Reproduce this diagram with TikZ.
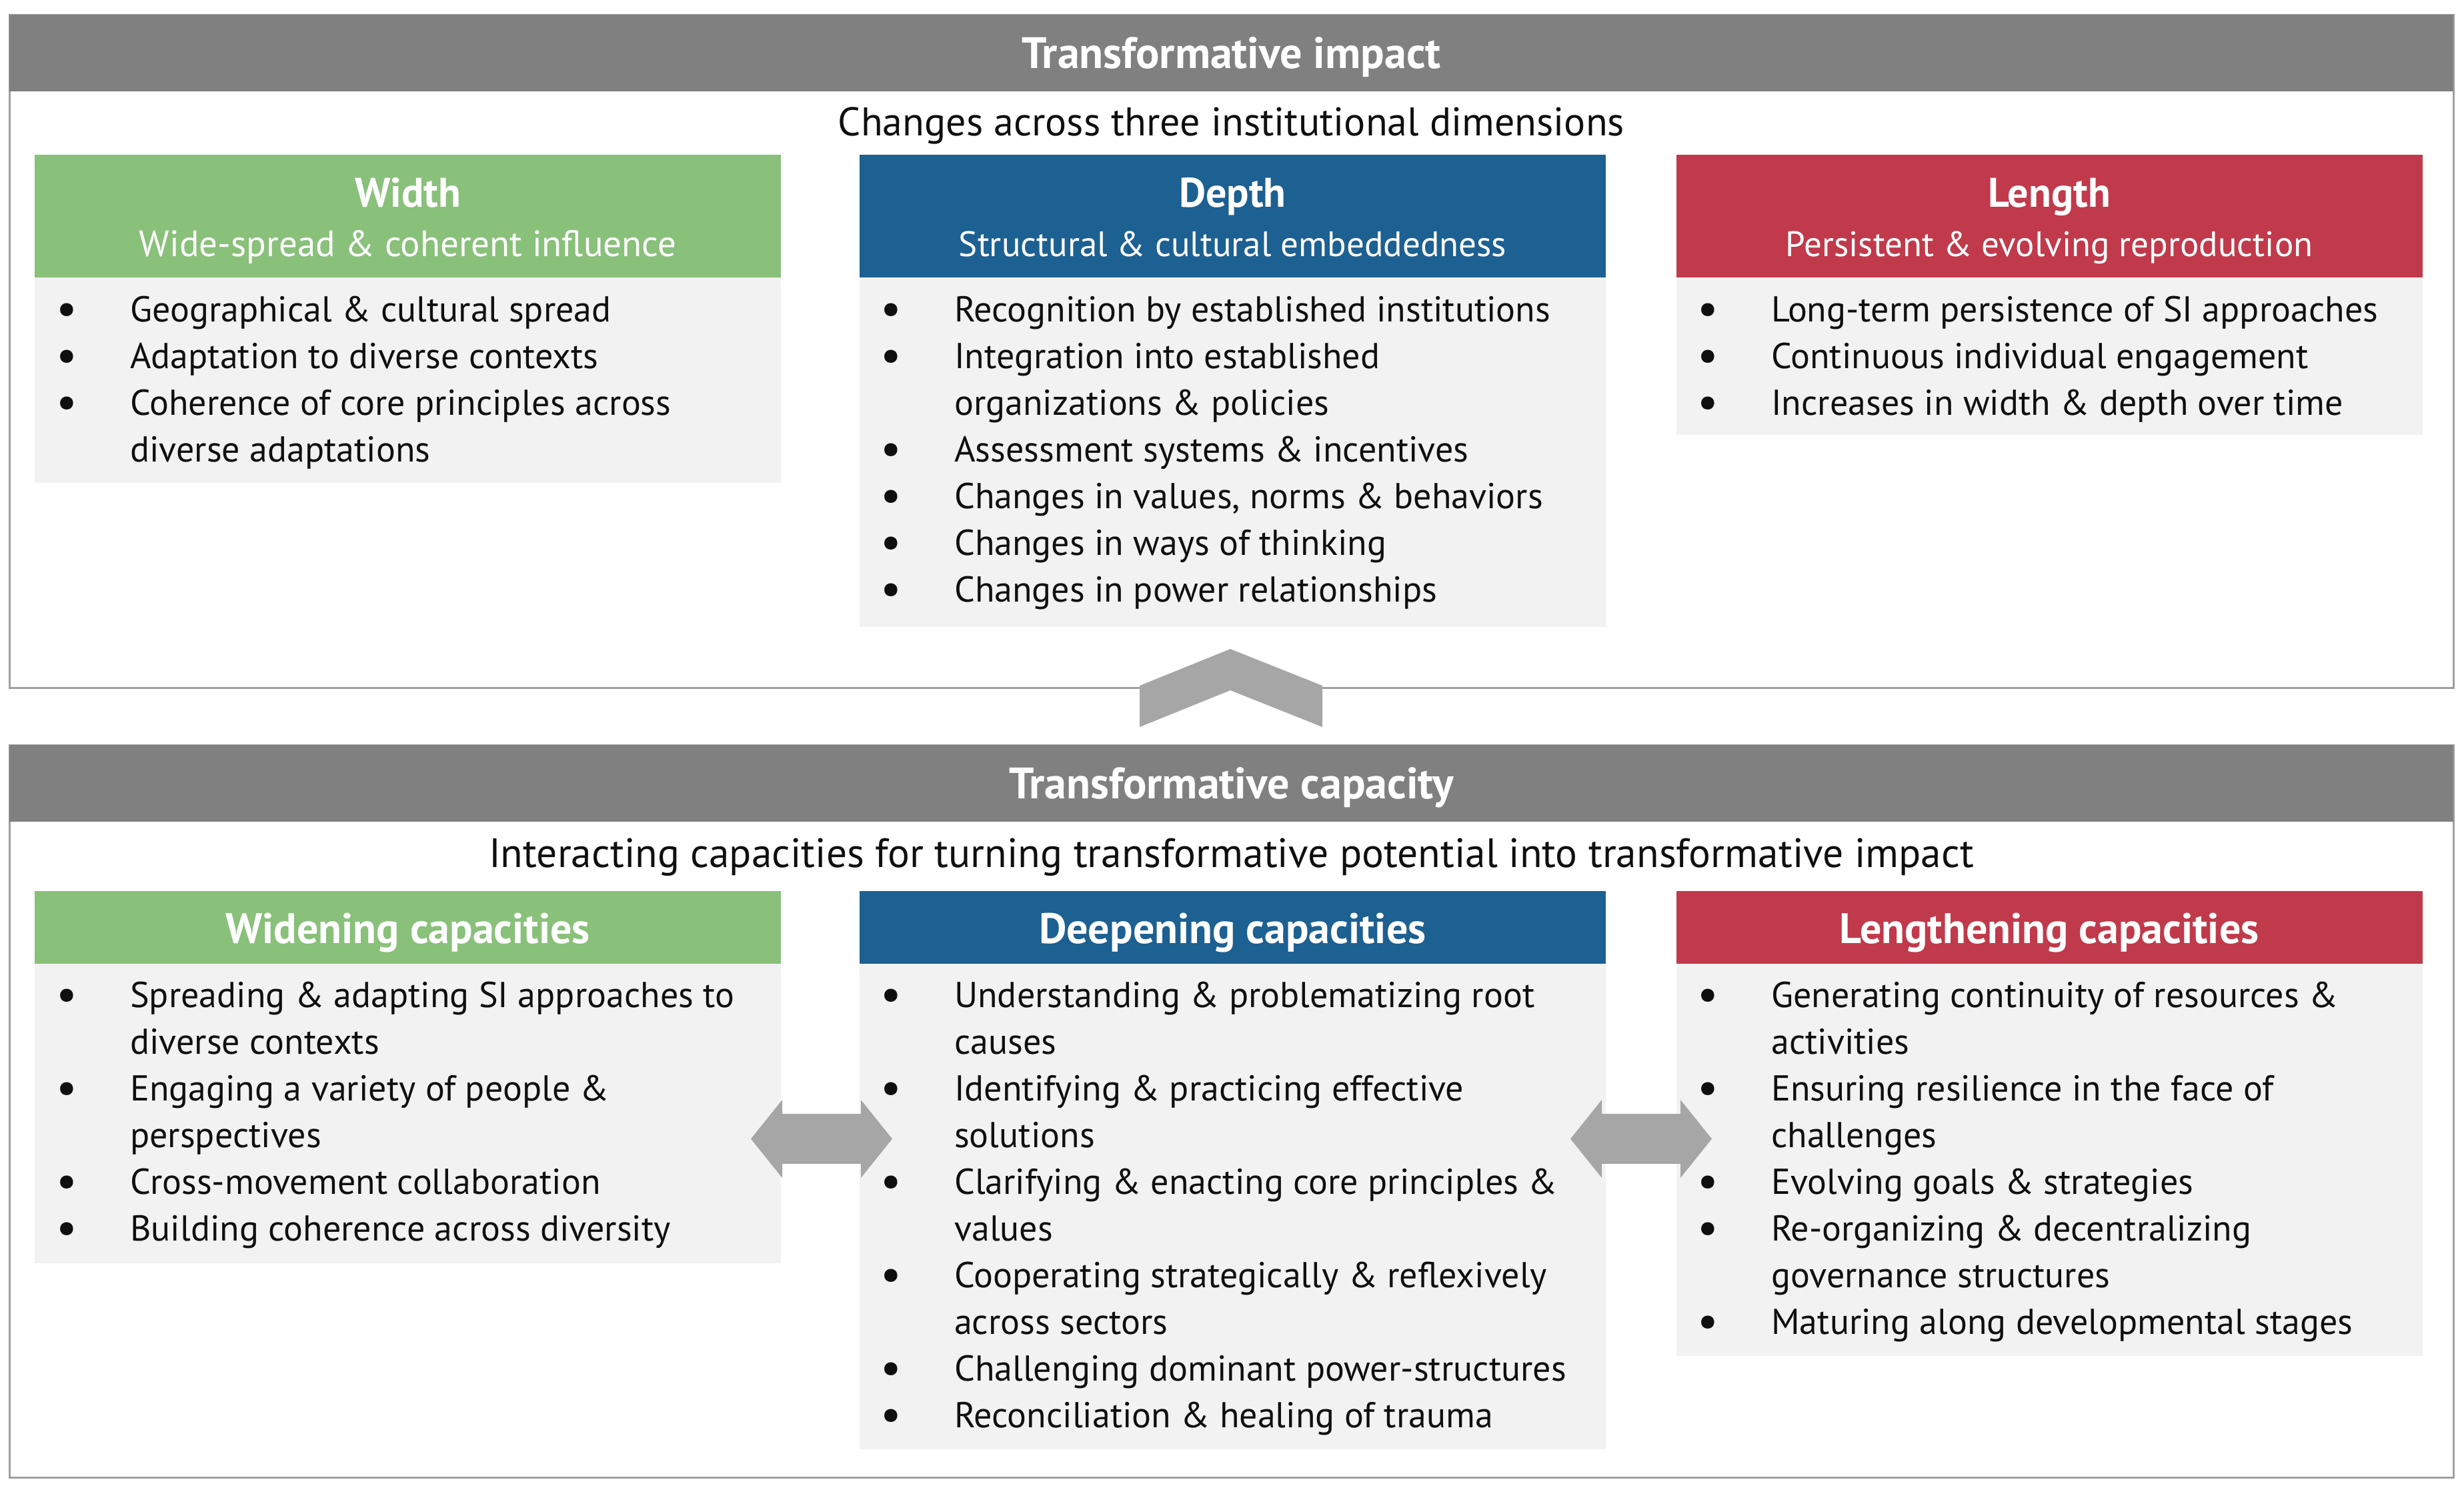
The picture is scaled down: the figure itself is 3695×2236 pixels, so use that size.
\documentclass[tikz,border=0pt]{standalone}
\usepackage{fontspec}
\setmainfont{PT Sans}
\usepackage{tikz}
\usetikzlibrary{arrows.meta}

\definecolor{bandgray}{RGB}{128,128,128}
\definecolor{framegray}{RGB}{160,160,160}
\definecolor{wgreen}{RGB}{137,192,122}
\definecolor{dblue}{RGB}{29,96,146}
\definecolor{lred}{RGB}{192,58,75}
\definecolor{bodygray}{RGB}{242,242,242}
\definecolor{arrowgray}{RGB}{166,166,166}
\definecolor{txt}{RGB}{15,15,15}

\newcommand{\bul}{\raisebox{-4pt}{\fontsize{70}{70}\selectfont\textbullet}}

\begin{document}
\begin{tikzpicture}[x=1pt, y=-1pt, every node/.style={inner sep=0pt, text=txt}]
\tikzset{
  frame/.style={draw=framegray, line width=3pt, minimum width=3665pt},
  band/.style={fill=bandgray, minimum width=3665pt, minimum height=115pt},
  bandtext/.style={anchor=base, text=white, font=\fontsize{66}{72}\selectfont\bfseries},
  subtitle/.style={anchor=base, font=\fontsize{60}{72}\selectfont},
  colhead/.style={minimum width=1119pt},
  coltitle/.style={anchor=base, text=white, font=\fontsize{62}{72}\selectfont\bfseries},
  colsub/.style={anchor=base, text=white, font=\fontsize{53}{72}\selectfont},
  colbody/.style={fill=bodygray, minimum width=1119pt, anchor=north},
  blist/.style={anchor=north west, font=\fontsize{54}{70}\selectfont},
  twoway/.style={arrowgray, line width=75pt, {Triangle[length=47pt,width=117pt,line width=0pt]}-{Triangle[length=47pt,width=117pt,line width=0pt]}}
}
\useasboundingbox (0,0) rectangle (3695,2236);

% transformative impact
\node[frame, minimum height=1009pt] (impact) at (1846.5,526.5) {};
\node[band] (imphead) at (1846.5,79.5) {};
\node[bandtext] (imptitle) at (1846.5,102) {Transformative impact};
\node[subtitle] (impsub) at (1846.5,203) {Changes across three institutional dimensions};

\node[colhead, fill=wgreen, minimum height=184pt] (whead) at (611.5,324) {};
\node[colhead, fill=dblue, minimum height=184pt] (dhead) at (1848.5,324) {};
\node[colhead, fill=lred, minimum height=184pt] (lhead) at (3073,324) {};
\node[coltitle] (wtitle) at (611.5,310) {Width};
\node[coltitle] (dtitle) at (1848.5,310) {Depth};
\node[coltitle] (ltitle) at (3073,310) {Length};
\node[colsub, font=\fontsize{55}{72}\selectfont] (wsub) at (611.5,384) {Wide-spread \& coherent influence};
\node[colsub] (dsub) at (1848.5,384) {Structural \& cultural embeddedness};
\node[colsub] (lsub) at (3073,384) {Persistent \& evolving reproduction};

\node[colbody, minimum height=308pt] (wbody) at (611.5,416) {};
\node[colbody, minimum height=524pt] (dbody) at (1848.5,416) {};
\node[colbody, minimum height=236pt] (lbody) at (3073,416) {};

\node[blist] (wlist) at (84,433) {\begin{tabular}{@{}p{111pt}@{}l@{}}
\bul & Geographical \& cultural spread\\
\bul & Adaptation to diverse contexts\\
\bul & Coherence of core principles across\\
 & diverse adaptations
\end{tabular}};
\node[blist] (dlist) at (1320,433) {\begin{tabular}{@{}p{111pt}@{}l@{}}
\bul & Recognition by established institutions\\
\bul & Integration into established\\
 & organizations \& policies\\
\bul & Assessment systems \& incentives\\
\bul & Changes in values, norms \& behaviors\\
\bul & Changes in ways of thinking\\
\bul & Changes in power relationships
\end{tabular}};
\node[blist] (llist) at (2545,433) {\begin{tabular}{@{}p{111pt}@{}l@{}}
\bul & Long-term persistence of SI approaches\\
\bul & Continuous individual engagement\\
\bul & Increases in width \& depth over time
\end{tabular}};

\fill[arrowgray] (1709,1090) -- (1709,1028) -- (1845,973) -- (1983,1028) -- (1983,1090) -- (1845,1035) -- cycle;

% transformative capacity
\node[frame, minimum height=1098pt] (capacity) at (1846.5,1666) {};
\node[band] (caphead) at (1846.5,1174.5) {};
\node[bandtext] (captitle) at (1846.5,1197) {Transformative capacity};
\node[subtitle, font=\fontsize{61.5}{72}\selectfont] (capsub) at (1846.5,1300) {Interacting capacities for turning transformative potential into transformative impact};

\node[colhead, fill=wgreen, minimum height=109pt] (wchead) at (611.5,1390.5) {};
\node[colhead, fill=dblue, minimum height=109pt] (dchead) at (1848.5,1390.5) {};
\node[colhead, fill=lred, minimum height=109pt] (lchead) at (3073,1390.5) {};
\node[coltitle, font=\fontsize{64}{72}\selectfont\bfseries] (wctitle) at (611.5,1414) {Widening capacities};
\node[coltitle, font=\fontsize{64}{72}\selectfont\bfseries] (dctitle) at (1848.5,1414) {Deepening capacities};
\node[coltitle, font=\fontsize{64}{72}\selectfont\bfseries] (lctitle) at (3073,1414) {Lengthening capacities};

\node[colbody, minimum height=449pt] (wcbody) at (611.5,1445) {};
\node[colbody, minimum height=728pt] (dcbody) at (1848.5,1445) {};
\node[colbody, minimum height=588pt] (lcbody) at (3073,1445) {};

\node[blist] (wclist) at (84,1461) {\begin{tabular}{@{}p{111pt}@{}l@{}}
\bul & Spreading \& adapting SI approaches to\\
 & diverse contexts\\
\bul & Engaging a variety of people \&\\
 & perspectives\\
\bul & Cross-movement collaboration\\
\bul & Building coherence across diversity
\end{tabular}};
\node[blist] (dclist) at (1320,1461) {\begin{tabular}{@{}p{111pt}@{}l@{}}
\bul & Understanding \& problematizing root\\
 & causes\\
\bul & Identifying \& practicing effective\\
 & solutions\\
\bul & Clarifying \& enacting core principles \&\\
 & values\\
\bul & Cooperating strategically \& reflexively\\
 & across sectors\\
\bul & Challenging dominant power-structures\\
\bul & Reconciliation \& healing of trauma
\end{tabular}};
\node[blist] (lclist) at (2545,1461) {\begin{tabular}{@{}p{111pt}@{}l@{}}
\bul & Generating continuity of resources \&\\
 & activities\\
\bul & Ensuring resilience in the face of\\
 & challenges\\
\bul & Evolving goals \& strategies\\
\bul & Re-organizing \& decentralizing\\
 & governance structures\\
\bul & Maturing along developmental stages
\end{tabular}};

\coordinate (wd1) at (1126,1707.5);
\coordinate (wd2) at (1338,1707.5);
\coordinate (dl1) at (2355,1707.5);
\coordinate (dl2) at (2567,1707.5);
\draw[twoway] (wd1) -- (wd2);
\draw[twoway] (dl1) -- (dl2);
\end{tikzpicture}
\end{document}
